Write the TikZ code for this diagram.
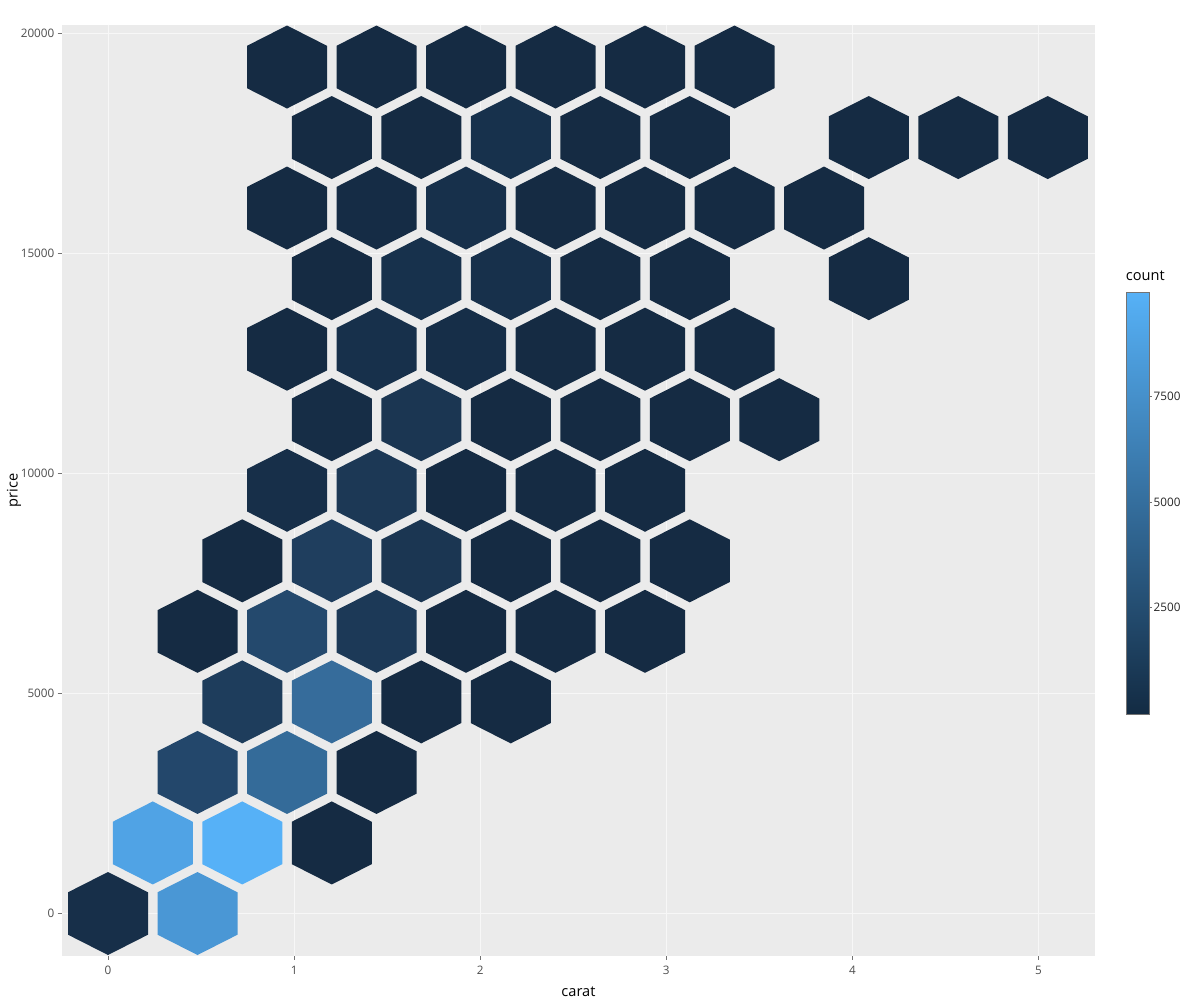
\documentclass[tikz,border=0pt]{standalone}
\usepackage{fontspec}
\setmainfont{Open Sans}
\definecolor{panelbg}{HTML}{EBEBEB}
\definecolor{lowc}{HTML}{132B43}
\definecolor{highc}{HTML}{56B1F7}
\definecolor{dk}{HTML}{152B43}
\definecolor{a1}{HTML}{172F49}
\definecolor{b1}{HTML}{4A97D5}
\definecolor{b2}{HTML}{50A3E5}
\definecolor{b3}{HTML}{56B1F7}
\definecolor{c1}{HTML}{23476B}
\definecolor{c2}{HTML}{346B99}
\definecolor{c3}{HTML}{1E3D5C}
\definecolor{c4}{HTML}{366C9B}
\definecolor{c5}{HTML}{24496D}
\definecolor{c6}{HTML}{1C3957}
\definecolor{c7}{HTML}{1F3E5E}
\definecolor{c8}{HTML}{1B3652}
\definecolor{c9}{HTML}{17304B}
\definecolor{c10}{HTML}{1C3855}
\definecolor{c11}{HTML}{162D46}
\definecolor{c12}{HTML}{17314C}
\definecolor{c13}{HTML}{162E48}
\definecolor{c14}{HTML}{152C45}
\definecolor{tickgray}{HTML}{4D4D4D}
\definecolor{gridc}{HTML}{F7F7F7}
\begin{document}
\begin{tikzpicture}[x=1pt,y=-1pt,
  gridline/.style={draw=gridc,line width=0.8pt},
  tickmark/.style={draw=black!55,line width=0.8pt},
  ticklabel/.style={text=tickgray,inner sep=0pt,font=\fontsize{11.7}{14}\selectfont},
  axistitle/.style={text=black,inner sep=0pt,font=\fontsize{14.6}{17}\selectfont},
  cblabel/.style={text=black!85,inner sep=0pt,font=\fontsize{11.7}{14}\selectfont},
  cbborder/.style={draw=black!55,line width=0.9pt},
  hexcell/.style={line width=0pt}
]
\useasboundingbox (0,0) rectangle (1200,1000);
\fill[white] (0,0) rectangle (1200,1000);
% panel
\fill[panelbg] (62,25) rectangle (1095,956);
% grid
\foreach \gx in {108,294.1,480.2,666.3,852.4,1038.5}
  \draw[gridline] (\gx,25) -- (\gx,956);
\foreach \gy in {33,253.1,473.25,693.4,913.5}
  \draw[gridline] (62,\gy) -- (1095,\gy);
% hexagons: row / half-column / colour
\foreach \r/\k/\hc in {
  0/0/a1, 0/2/b1,
  1/1/b2, 1/3/b3, 1/5/dk,
  2/2/c1, 2/4/c2, 2/6/dk,
  3/3/c3, 3/5/c4, 3/7/dk, 3/9/dk,
  4/2/dk, 4/4/c5, 4/6/c6, 4/8/dk, 4/10/dk, 4/12/dk,
  5/3/dk, 5/5/c7, 5/7/c8, 5/9/dk, 5/11/dk, 5/13/dk,
  6/4/a1, 6/6/c10, 6/8/dk, 6/10/dk, 6/12/dk,
  7/5/c11, 7/7/c8, 7/9/dk, 7/11/dk, 7/13/dk, 7/15/dk,
  8/4/dk, 8/6/c9, 8/8/c13, 8/10/dk, 8/12/dk, 8/14/dk,
  9/5/dk, 9/7/c12, 9/9/c9, 9/11/dk, 9/13/dk, 9/17/dk,
  10/4/dk, 10/6/c14, 10/8/c9, 10/10/dk, 10/12/dk, 10/14/dk, 10/16/dk,
  11/5/dk, 11/7/dk, 11/9/c12, 11/11/dk, 11/13/dk, 11/17/dk, 11/19/dk, 11/21/dk,
  12/4/dk, 12/6/dk, 12/8/dk, 12/10/dk, 12/12/dk, 12/14/dk}
{
  \fill[hexcell,fill=\hc] ({108+44.75*\k},{913.5-70.54*\r}) ++(0,-41.5)
     -- ++(40,20.3) -- ++(0,42.4) -- ++(-40,20.3) -- ++(-40,-20.3) -- ++(0,-42.4) -- cycle;
}
% x axis ticks and labels
\foreach \gx/\lab/\nm in {108/0/xt0,294.1/1/xt1,480.2/2/xt2,666.3/3/xt3,852.4/4/xt4,1038.5/5/xt5}{
  \draw[tickmark] (\gx,956) -- (\gx,960);
  \node[ticklabel,anchor=center] (\nm) at (\gx,970.7) {\lab};
}
% y axis ticks and labels
\foreach \gy/\lab/\nm in {913.5/0/yt0,693.4/5000/yt1,473.25/10000/yt2,253.1/15000/yt3,33/20000/yt4}{
  \draw[tickmark] (57.5,\gy) -- (61.5,\gy);
  \node[ticklabel,anchor=east] (\nm) at (54.5,\gy) {\lab};
}
% axis titles
\node[axistitle,anchor=base] (xtitle) at (578.5,996) {carat};
\node[axistitle,anchor=base,rotate=90] (ytitle) at (17.5,490.5) {price};
% colour bar
\node[axistitle,anchor=base west] (cbtitle) at (1125.7,281) {count};
\shade[bottom color=lowc,top color=highc] (1126,292.3) rectangle (1149,714);
\draw[cbborder] (1126,292.3) rectangle (1149,714);
\foreach \cy/\lab/\nm in {396/7500/cb3,502.3/5000/cb2,607.7/2500/cb1}{
  \draw[tickmark,line width=0.7pt] (1149.3,\cy) -- (1152,\cy);
  \node[cblabel,anchor=west] (\nm) at (1153.5,\cy) {\lab};
}
\end{tikzpicture}
\end{document}
